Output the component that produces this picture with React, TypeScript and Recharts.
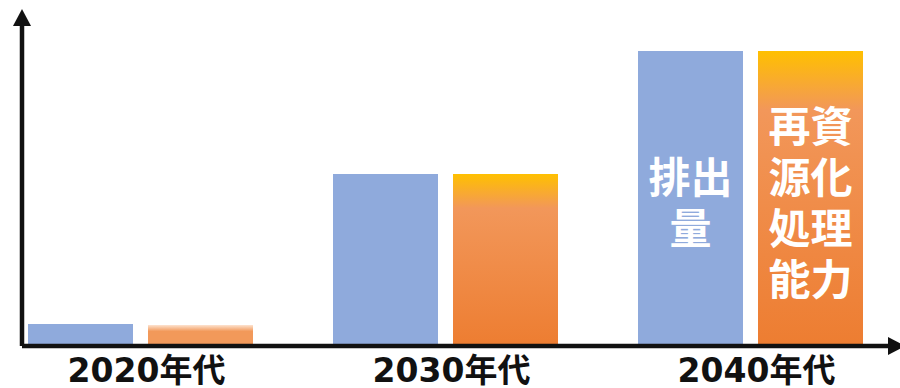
import { BarChart, Bar, XAxis, YAxis, Cell, LabelList } from 'recharts';

const decades = ['2020年代', '2030年代', '2040年代'];
const emissions = [22, 172, 295];
const capacity = [21, 172, 295];
const emissionLabel = ['排出', '量'];
const capacityLabel = ['再資', '源化', '処理', '能力'];

const data = decades.map((d, i) => ({ decade: d, emissions: emissions[i], capacity: capacity[i] }));

const labelFont = '"Noto Sans CJK JP", "Noto Sans", sans-serif';

function innerLabel(lines: string[]) {
  return (props: any) => {
    const { x, y, width, height, index } = props;
    if (index !== data.length - 1) return null;
    const cx = Number(x) + Number(width) / 2;
    const cy = Number(y) + Number(height) / 2 + 1.5;
    const pitch = 51;
    const start = cy - ((lines.length - 1) * pitch) / 2;
    return (
      <g>
        {lines.map((t, k) => (
          <text
            key={k}
            x={cx}
            y={start + k * pitch}
            textAnchor="middle"
            dominantBaseline="central"
            fill="#ffffff"
            fontFamily={labelFont}
            fontWeight={700}
            fontSize={42}
          >
            {t}
          </text>
        ))}
      </g>
    );
  };
}

const DecadeTick = (props: any) => {
  const { x, y, payload } = props;
  return (
    <text
      x={x}
      y={y}
      dx={6}
      dy={28}
      textAnchor="middle"
      fill="#111"
      fontFamily={'"DejaVu Sans", "Noto Sans CJK JP", sans-serif'}
      fontWeight={700}
      fontSize={33}
    >
      {payload.value}
    </text>
  );
};

export default function App() {
  return (
    <div style={{ position: 'absolute', left: 0, top: 0 }}>
      <BarChart
        width={900}
        height={388}
        data={data}
        margin={{ top: 26, right: 12, bottom: 0, left: 0 }}
        barGap={15}
        barSize={105}
      >
        <defs>
          <marker
            id="arrowHead"
            viewBox="0 0 17 18"
            refX={0}
            refY={9}
            markerWidth={17}
            markerHeight={18}
            markerUnits="userSpaceOnUse"
            orient="auto-start-reverse"
          >
            <path d="M0,0 L17,9 L0,18 z" fill="#111" />
          </marker>
          <linearGradient id="orangeGrad" x1="0" y1="0" x2="0" y2="1">
            <stop offset="0" stopColor="#ffc000" />
            <stop offset="0.2" stopColor="#f2975a" />
            <stop offset="1" stopColor="#ed7d31" />
          </linearGradient>
          <linearGradient id="orangeLow" x1="0" y1="0" x2="0" y2="1">
            <stop offset="0" stopColor="#fde3d0" />
            <stop offset="0.3" stopColor="#f2995a" />
            <stop offset="1" stopColor="#f2995a" />
          </linearGradient>
        </defs>
        <XAxis
          dataKey="decade"
          height={42}
          padding={{ left: -34, right: -15 }}
          tickLine={false}
          axisLine={{ stroke: '#111', strokeWidth: 4.5, markerEnd: 'url(#arrowHead)' }}
          tick={<DecadeTick />}
          interval={0}
        />
        <YAxis
          width={22}
          domain={[0, 320]}
          tick={false}
          tickLine={false}
          axisLine={{ stroke: '#111', strokeWidth: 4.5, markerStart: 'url(#arrowHead)' }}
        />
        <Bar dataKey="emissions" fill="#8faadc" isAnimationActive={false}>
          <LabelList dataKey="emissions" content={innerLabel(emissionLabel)} />
        </Bar>
        <Bar dataKey="capacity" fill="url(#orangeGrad)" isAnimationActive={false}>
          {data.map((_, i) => (
            <Cell key={i} fill={i === 0 ? 'url(#orangeLow)' : 'url(#orangeGrad)'} />
          ))}
          <LabelList dataKey="capacity" content={innerLabel(capacityLabel)} />
        </Bar>
      </BarChart>
    </div>
  );
}
